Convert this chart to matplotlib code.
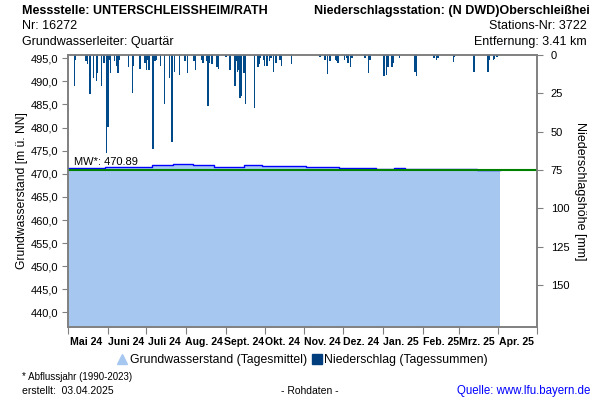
import numpy as np
import pandas as pd
import matplotlib
matplotlib.use("Agg")
import matplotlib.pyplot as plt
import matplotlib.dates as mdates
from matplotlib.lines import Line2D
from matplotlib.ticker import FuncFormatter

plt.rcParams['font.family'] = ['Liberation Sans', 'DejaVu Sans']

# Grundwasserstand (Tagesmittel), Stufen ab Datum
gw_dates = ['2024-05-01', '2024-05-30', '2024-07-05', '2024-07-22', '2024-08-06',
            '2024-08-23', '2024-09-15', '2024-09-29', '2024-11-02', '2024-11-28',
            '2024-12-27', '2025-01-10', '2025-01-18', '2025-03-15', '2025-04-02']
gw_levels = [471.15, 471.50, 471.85, 472.10, 471.95,
             471.50, 471.80, 471.70, 471.45, 471.25,
             471.07, 471.22, 471.05, 470.92, 470.92]
mw_value = 470.89

# Niederschlag (Tagessummen) in mm
rain_dates = ['2024-05-06', '2024-05-07', '2024-05-15', '2024-05-16', '2024-05-18',
              '2024-05-21', '2024-05-23', '2024-05-24', '2024-05-27', '2024-05-29',
              '2024-05-31', '2024-06-01', '2024-06-02', '2024-06-03', '2024-06-06',
              '2024-06-08', '2024-06-09', '2024-06-10', '2024-06-17', '2024-06-20',
              '2024-06-21', '2024-06-26', '2024-06-30', '2024-07-01', '2024-07-02',
              '2024-07-03', '2024-07-06', '2024-07-07', '2024-07-08', '2024-07-09',
              '2024-07-12', '2024-07-15', '2024-07-19', '2024-07-21', '2024-07-23',
              '2024-07-27', '2024-07-31', '2024-08-02', '2024-08-07', '2024-08-08',
              '2024-08-13', '2024-08-14', '2024-08-17', '2024-08-18', '2024-08-19',
              '2024-08-21', '2024-08-25', '2024-08-26', '2024-09-01', '2024-09-04',
              '2024-09-08', '2024-09-09', '2024-09-10', '2024-09-11', '2024-09-12',
              '2024-09-13', '2024-09-15', '2024-09-16', '2024-09-23', '2024-09-26',
              '2024-09-27', '2024-09-28', '2024-09-30', '2024-10-01', '2024-10-03',
              '2024-10-05', '2024-10-06', '2024-10-08', '2024-10-10', '2024-10-13',
              '2024-10-14', '2024-10-22', '2024-11-13', '2024-11-17', '2024-11-19',
              '2024-11-21', '2024-11-25', '2024-11-26', '2024-11-27', '2024-12-02',
              '2024-12-04', '2024-12-05', '2024-12-07', '2024-12-08', '2024-12-18',
              '2024-12-21', '2024-12-22', '2025-01-02', '2025-01-04', '2025-01-05',
              '2025-01-08', '2025-01-09', '2025-01-14', '2025-01-26', '2025-01-27',
              '2025-02-10', '2025-02-12', '2025-02-13', '2025-02-25', '2025-02-26',
              '2025-03-13', '2025-03-24', '2025-03-25', '2025-03-28', '2025-03-29',
              '2025-03-31']
rain_mm = [20, 3, 4, 6, 25.5,
           15, 17, 12, 20, 5,
           64, 47, 3, 12, 4,
           7, 12, 3, 8, 25,
           7, 9, 5, 10, 3,
           10, 61, 4, 4, 3,
           7, 32, 15, 57, 11,
           13, 4, 12, 4, 9.5,
           3, 5, 4, 33, 5,
           6, 8, 9, 1, 9.5,
           20, 4, 11, 10, 28,
           27, 12, 32, 34.5, 8,
           6, 2, 3, 7, 7.5,
           4, 2, 11, 5, 3,
           7, 6, 1, 3, 12.5,
           4, 3, 4, 5.5, 3,
           2, 5, 8, 2, 2,
           12, 3, 14, 13, 7.7,
           8, 5, 2, 11, 14,
           2, 3, 2, 4.5, 1,
           11, 11, 3, 3.5, 2.5,
           1.5]

month_labels = ['Mai 24', 'Juni 24', 'Juli 24', 'Aug. 24', 'Sept. 24', 'Okt. 24',
                'Nov. 24', 'Dez. 24', 'Jan. 25', 'Feb. 25', 'Mrz. 25', 'Apr. 25']

gw_x = pd.to_datetime(gw_dates)
rain_x = pd.to_datetime(rain_dates)

fig = plt.figure(figsize=(6, 4), dpi=100)
ax = fig.add_axes([68/600, 1-327/400, (537-68)/600, (327-55)/400])
ax2 = ax.twinx()

grey = '#808080'

# Grundwasser
ax.fill_between(gw_x, 0, gw_levels, step='post', color='#A6C8F0', lw=0, zorder=1)
ax.plot(gw_x, gw_levels, drawstyle='steps-post', color='#0000FF', lw=1.0, zorder=3)
ax.axhline(mw_value, color='#008000', lw=1.5, zorder=4)
ax.text(pd.Timestamp('2024-05-06'), mw_value + 0.55, 'MW*: 470.89', fontsize=8,
        va='bottom', ha='left', zorder=5)

ax.set_xlim(pd.Timestamp('2024-05-01'), pd.Timestamp('2025-05-01'))
ax.set_ylim(436.85, 495.7)
ax.set_yticks(np.arange(440, 496, 5))
ax.yaxis.set_major_formatter(FuncFormatter(lambda v, p: f'{v:.1f}'.replace('.', ',')))
ax.set_ylabel('Grundwasserstand [m ü. NN]', fontsize=8.7, labelpad=2)

# Niederschlag
ax2.bar(rain_x, rain_mm, width=1.1, color='#004A8A', lw=0, zorder=2)
ax2.set_ylim(177.4, 0)
ax2.set_yticks([0, 25, 50, 75, 100, 125, 150])
ax2.set_ylabel('Niederschlagshöhe [mm]', fontsize=9, rotation=270, labelpad=12)

# x-Achse: Monatsgrenzen als Striche, Namen in Monatsmitte
ax.xaxis.set_major_locator(mdates.MonthLocator())
ax.xaxis.set_major_formatter(plt.NullFormatter())
mids = pd.date_range('2024-05-01', periods=12, freq='MS') + pd.Timedelta(days=14)
ax.set_xticks(mids, minor=True)
ax.set_xticklabels(month_labels, minor=True, fontsize=7.6, fontweight='bold')
ax.tick_params(axis='x', which='minor', length=0, pad=7)
ax.tick_params(axis='x', which='major', length=5, color=grey, direction='out')
ax.tick_params(axis='y', length=4, color=grey, labelsize=8, pad=3)
ax2.tick_params(axis='y', length=4, color=grey, labelsize=8, pad=6)

for a in (ax, ax2):
    for s in a.spines.values():
        s.set_color(grey)
        s.set_linewidth(1.2)

# Legende
handles = [Line2D([], [], ls='', marker='^', color='#A6C8F0', markersize=7),
           Line2D([], [], ls='', marker='s', color='#003E7E', markersize=7)]
fig.legend(handles, ['Grundwasserstand (Tagesmittel)', 'Niederschlag (Tagessummen)'],
           loc='center', bbox_to_anchor=(302/600, 1-360/400), ncol=2, frameon=False,
           fontsize=8.8, handletextpad=0.1, columnspacing=0.3, handlelength=1)

# Kopf- und Fusszeilen
def ptext(x, y, s, **kw):
    fig.text(x/600, 1-y/400, s, va='center', **kw)

ptext(22, 11, 'Messstelle: UNTERSCHLEISSHEIM/RATH', fontsize=9, fontweight='bold')
ptext(22, 26, 'Nr: 16272', fontsize=9)
ptext(22, 42, 'Grundwasserleiter: Quartär', fontsize=9)
ptext(590, 11, 'Niederschlagsstation: (N DWD)Oberschleißhei', fontsize=9,
      fontweight='bold', ha='right')
ptext(587, 26, 'Stations-Nr: 3722', fontsize=9, ha='right')
ptext(587, 42, 'Entfernung: 3.41 km', fontsize=9, ha='right')
ptext(22, 377, '* Abflussjahr (1990-2023)', fontsize=7)
ptext(22, 391, 'erstellt:  03.04.2025', fontsize=7.5)
ptext(310, 391, '- Rohdaten -', fontsize=7.5, ha='center')
ptext(590, 391, 'Quelle: www.lfu.bayern.de', fontsize=8.3, ha='right', color='#0000FF')

fig.savefig('out.png', dpi=100)
